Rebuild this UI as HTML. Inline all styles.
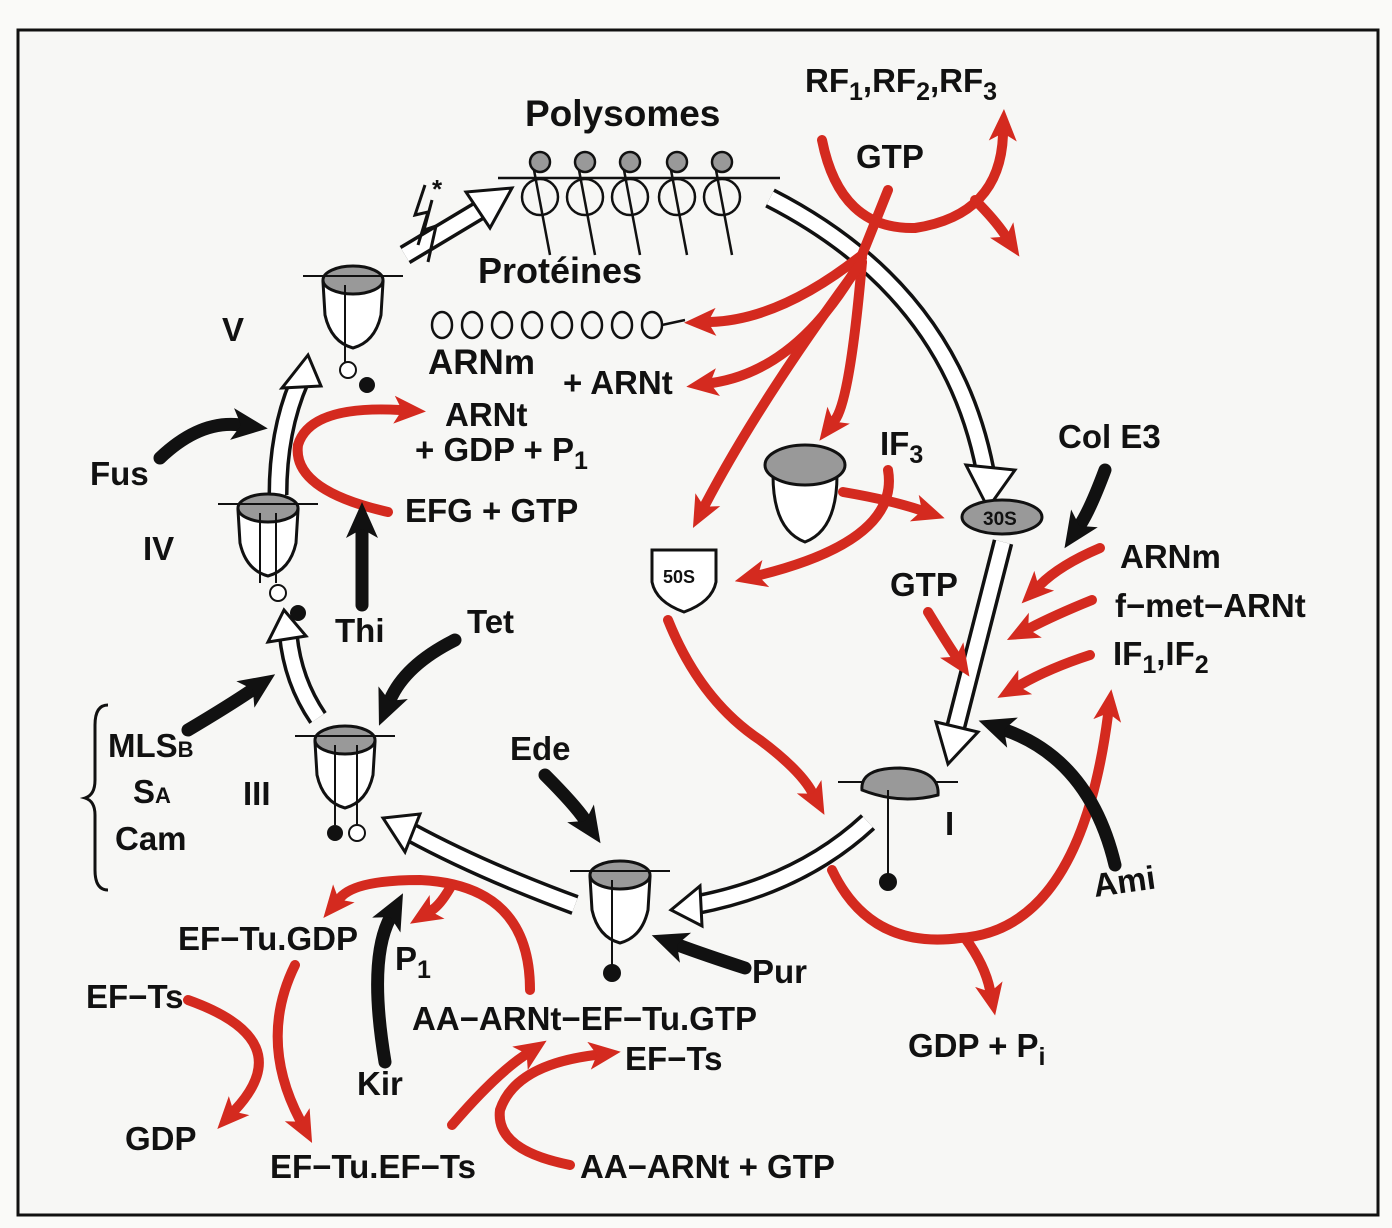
<!DOCTYPE html>
<html><head><meta charset="utf-8">
<style>
html,body{margin:0;padding:0;background:#fafaf8;}
svg{display:block;}
text{font-family:"Liberation Sans",sans-serif;font-weight:bold;fill:#111;}
</style></head>
<body>
<svg width="1392" height="1228" viewBox="0 0 1392 1228" xmlns="http://www.w3.org/2000/svg">
<defs>
<marker id="r" markerUnits="userSpaceOnUse" markerWidth="32" markerHeight="32" refX="6" refY="16" orient="auto">
<path d="M0,2 L32,16 L0,30 L8,16 Z" fill="#d42a1f"/></marker>
<marker id="k" markerUnits="userSpaceOnUse" markerWidth="36" markerHeight="36" refX="8" refY="18" orient="auto">
<path d="M0,2 L36,18 L0,34 L9,18 Z" fill="#111"/></marker>
<g id="ribo">
<path d="M-30,-8 L30,-8 L28,25 Q22,52 0,58 Q-22,52 -28,25 Z" fill="#fff" stroke="#111" stroke-width="3"/>
<ellipse cx="0" cy="-10" rx="30" ry="14" fill="#999" stroke="#111" stroke-width="3"/>
<line x1="-50" y1="-14" x2="50" y2="-14" stroke="#111" stroke-width="2"/>
</g>
</defs>
<rect x="0" y="0" width="1392" height="1228" fill="#fafaf8"/>
<rect x="18" y="30" width="1360" height="1185" fill="#f7f7f5" stroke="#111" stroke-width="3"/>

<g fill="none" stroke-linecap="butt">
<g stroke="#111" stroke-width="21">
<path d="M770,198 Q950,290 985,470"/>
<path d="M1003,542 L955,730"/>
<path d="M868,822 Q800,885 695,905"/>
<path d="M575,905 Q480,870 410,832"/>
<path d="M318,718 Q292,680 288,632"/>
<path d="M278,495 Q278,430 300,380"/>
<path d="M405,255 L480,210"/>
</g>
<g stroke="#fff" stroke-width="14">
<path d="M770,198 Q950,290 985,470"/>
<path d="M1003,542 L955,730"/>
<path d="M868,822 Q800,885 695,905"/>
<path d="M575,905 Q480,870 410,832"/>
<path d="M318,718 Q292,680 288,632"/>
<path d="M278,495 Q278,430 300,380"/>
<path d="M405,255 L480,210"/>
</g>
</g>
<g fill="#fff" stroke="#111" stroke-width="3">
<polygon points="966,465 1015,470 988,508"/>
<polygon points="936,722 978,732 948,764"/>
<polygon points="700,886 702,926 671,910"/>
<polygon points="420,814 405,852 383,818"/>
<polygon points="268,642 306,636 284,610"/>
<polygon points="282,388 321,386 308,355"/>
<polygon points="466,192 490,228 512,188"/>
</g>

<line x1="498" y1="178" x2="780" y2="178" stroke="#111" stroke-width="2.5"/>
<g stroke="#111" stroke-width="2.5" fill="#f7f7f5">
<g transform="translate(540,0)"><circle cx="0" cy="197" r="18"/><line x1="-6" y1="170" x2="10" y2="255"/><circle cx="0" cy="162" r="10" fill="#999"/></g>
<g transform="translate(585,0)"><circle cx="0" cy="197" r="18"/><line x1="-6" y1="170" x2="10" y2="255"/><circle cx="0" cy="162" r="10" fill="#999"/></g>
<g transform="translate(630,0)"><circle cx="0" cy="197" r="18"/><line x1="-6" y1="170" x2="10" y2="255"/><circle cx="0" cy="162" r="10" fill="#999"/></g>
<g transform="translate(677,0)"><circle cx="0" cy="197" r="18"/><line x1="-6" y1="170" x2="10" y2="255"/><circle cx="0" cy="162" r="10" fill="#999"/></g>
<g transform="translate(722,0)"><circle cx="0" cy="197" r="18"/><line x1="-6" y1="170" x2="10" y2="255"/><circle cx="0" cy="162" r="10" fill="#999"/></g>
</g>
<path d="M425,185 L415,215 L428,212 L418,245 M432,200 L424,230 L436,226 L428,262" stroke="#111" stroke-width="3" fill="none"/>
<text x="432" y="198" font-size="26">*</text>
<g fill="none" stroke="#111" stroke-width="2.5">
<ellipse cx="442" cy="325" rx="10" ry="13"/><ellipse cx="472" cy="325" rx="10" ry="13"/><ellipse cx="502" cy="325" rx="10" ry="13"/><ellipse cx="532" cy="325" rx="10" ry="13"/><ellipse cx="562" cy="325" rx="10" ry="13"/><ellipse cx="592" cy="325" rx="10" ry="13"/><ellipse cx="622" cy="325" rx="10" ry="13"/><ellipse cx="652" cy="325" rx="10" ry="13"/>
<path d="M662,325 L685,320"/>
</g>

<g transform="translate(353,290)"><use href="#ribo"/><line x1="-8" y1="-5" x2="-8" y2="75" stroke="#111" stroke-width="2"/><circle cx="-5" cy="80" r="8" fill="#fff" stroke="#111" stroke-width="2"/><circle cx="14" cy="95" r="8" fill="#111"/></g>
<g transform="translate(268,518)"><use href="#ribo"/><line x1="-8" y1="-5" x2="-8" y2="65" stroke="#111" stroke-width="2"/><line x1="8" y1="-5" x2="8" y2="65" stroke="#111" stroke-width="2"/><circle cx="10" cy="75" r="8" fill="#fff" stroke="#111" stroke-width="2"/><circle cx="30" cy="95" r="8" fill="#111"/></g>
<g transform="translate(345,750)"><use href="#ribo"/><line x1="-10" y1="-5" x2="-10" y2="75" stroke="#111" stroke-width="2"/><line x1="12" y1="-5" x2="12" y2="75" stroke="#111" stroke-width="2"/><circle cx="-10" cy="83" r="8" fill="#111"/><circle cx="12" cy="83" r="8" fill="#fff" stroke="#111" stroke-width="2"/></g>
<g transform="translate(620,885)"><use href="#ribo"/><line x1="-8" y1="-5" x2="-8" y2="80" stroke="#111" stroke-width="2"/><circle cx="-8" cy="88" r="9" fill="#111"/></g>
<g transform="translate(805,470)"><path d="M-32,5 L32,5 Q32,60 0,72 Q-32,60 -32,5 Z" fill="#fff" stroke="#111" stroke-width="3"/><ellipse cx="0" cy="-5" rx="40" ry="20" fill="#999" stroke="#111" stroke-width="3"/></g>
<g><line x1="838" y1="782" x2="958" y2="782" stroke="#111" stroke-width="2"/><path d="M862,790 Q860,768 900,768 Q940,770 938,795 Q900,805 862,790Z" fill="#999" stroke="#111" stroke-width="3"/><line x1="888" y1="790" x2="888" y2="875" stroke="#111" stroke-width="2"/><circle cx="888" cy="882" r="9" fill="#111"/></g>
<ellipse cx="1002" cy="517" rx="40" ry="17" fill="#999" stroke="#111" stroke-width="3"/>
<text x="983" y="525" font-size="19" fill="#fff">30S</text>
<path d="M652,550 L716,550 L716,582 Q712,602 684,612 Q656,602 652,582 Z" fill="#fff" stroke="#111" stroke-width="3"/>
<text x="663" y="583" font-size="18">50S</text>

<g fill="none" stroke="#d42a1f" stroke-width="10" stroke-linecap="round">
<path d="M822,140 Q840,230 915,228 Q1000,215 1003,135" marker-end="url(#r)"/>
<path d="M975,200 Q995,220 1005,235" marker-end="url(#r)"/>
<path d="M888,190 L862,255"/>
<path d="M862,255 Q780,320 710,322" marker-end="url(#r)"/>
<path d="M862,258 Q800,370 712,383" marker-end="url(#r)"/>
<path d="M862,262 Q850,400 835,420" marker-end="url(#r)"/>
<path d="M862,262 Q760,400 705,505" marker-end="url(#r)"/>
<path d="M843,492 Q890,500 920,510" marker-end="url(#r)"/>
<path d="M888,470 Q900,540 760,575" marker-end="url(#r)"/>
<path d="M668,620 Q700,700 760,740 Q800,770 812,792" marker-end="url(#r)"/>
<path d="M1100,548 Q1060,565 1040,585" marker-end="url(#r)"/>
<path d="M1092,600 Q1055,615 1030,628" marker-end="url(#r)"/>
<path d="M1090,655 Q1050,668 1020,685" marker-end="url(#r)"/>
<path d="M928,612 Q945,640 955,655" marker-end="url(#r)"/>
<path d="M832,870 Q870,950 960,938 Q1080,930 1108,715" marker-end="url(#r)"/>
<path d="M965,938 Q985,965 990,990" marker-end="url(#r)"/>
<path d="M388,512 Q292,490 298,445 Q310,405 400,410" marker-end="url(#r)"/>
<path d="M530,990 Q530,885 420,880 Q355,880 340,898" marker-end="url(#r)"/>
<path d="M450,888 Q440,905 432,910" marker-end="url(#r)"/>
<path d="M295,965 Q258,1040 300,1120" marker-end="url(#r)"/>
<path d="M188,1000 Q300,1040 235,1110" marker-end="url(#r)"/>
<path d="M452,1125 Q495,1075 525,1055" marker-end="url(#r)"/>
<path d="M570,1165 Q495,1150 500,1110 Q515,1065 595,1055" marker-end="url(#r)"/>
</g>
<g fill="none" stroke="#111" stroke-width="13" stroke-linecap="round">
<path d="M1105,470 Q1090,510 1080,525" marker-end="url(#k)"/>
<path d="M1115,865 Q1090,760 1005,730" marker-end="url(#k)"/>
<path d="M160,458 Q200,420 240,425" marker-end="url(#k)"/>
<path d="M362,605 L362,530" marker-end="url(#k)"/>
<path d="M188,730 Q230,705 252,690" marker-end="url(#k)"/>
<path d="M455,640 Q405,665 390,700" marker-end="url(#k)"/>
<path d="M545,775 Q575,805 585,820" marker-end="url(#k)"/>
<path d="M745,968 Q705,955 678,945" marker-end="url(#k)"/>
<path d="M385,1062 Q368,960 390,918" marker-end="url(#k)"/>
</g>

<path d="M108,705 Q95,705 95,725 L95,780 Q95,795 85,798 Q95,801 95,815 L95,870 Q95,890 108,890" fill="none" stroke="#111" stroke-width="3"/>

<g font-size="33">
<text x="525" y="126" font-size="37">Polysomes</text>
<text x="805" y="92">RF<tspan font-size="25" dy="8">1</tspan><tspan dy="-8">,RF</tspan><tspan font-size="25" dy="8">2</tspan><tspan dy="-8">,RF</tspan><tspan font-size="25" dy="8">3</tspan></text>
<text x="856" y="168">GTP</text>
<text x="478" y="283" font-size="36">Protéines</text>
<text x="222" y="341">V</text>
<text x="428" y="374" font-size="35">ARNm</text>
<text x="563" y="394">+ ARNt</text>
<text x="445" y="426">ARNt</text>
<text x="415" y="461">+ GDP + P<tspan font-size="25" dy="8">1</tspan></text>
<text x="90" y="485">Fus</text>
<text x="405" y="522">EFG + GTP</text>
<text x="143" y="560">IV</text>
<text x="880" y="455">IF<tspan font-size="25" dy="8">3</tspan></text>
<text x="1058" y="448">Col E3</text>
<text x="1120" y="568">ARNm</text>
<text x="1115" y="617">f−met−ARNt</text>
<text x="1113" y="665">IF<tspan font-size="25" dy="8">1</tspan><tspan dy="-8">,IF</tspan><tspan font-size="25" dy="8">2</tspan></text>
<text x="890" y="596">GTP</text>
<text x="335" y="642">Thi</text>
<text x="467" y="633">Tet</text>
<text x="108" y="757">MLS<tspan font-size="22">B</tspan></text>
<text x="133" y="803">S<tspan font-size="22">A</tspan></text>
<text x="115" y="850">Cam</text>
<text x="243" y="805">III</text>
<text x="510" y="760">Ede</text>
<text x="945" y="835">I</text>
<text x="1095" y="897" transform="rotate(-8 1095 897)">Ami</text>
<text x="752" y="983">Pur</text>
<text x="178" y="950">EF−Tu.GDP</text>
<text x="395" y="970">P<tspan font-size="25" dy="8">1</tspan></text>
<text x="86" y="1008">EF−Ts</text>
<text x="412" y="1030">AA−ARNt−EF−Tu.GTP</text>
<text x="625" y="1070">EF−Ts</text>
<text x="908" y="1057">GDP + P<tspan font-size="25" dy="8">i</tspan></text>
<text x="357" y="1095">Kir</text>
<text x="125" y="1150">GDP</text>
<text x="270" y="1178">EF−Tu.EF−Ts</text>
<text x="580" y="1178">AA−ARNt + GTP</text>
</g>
</svg>
</body></html>
